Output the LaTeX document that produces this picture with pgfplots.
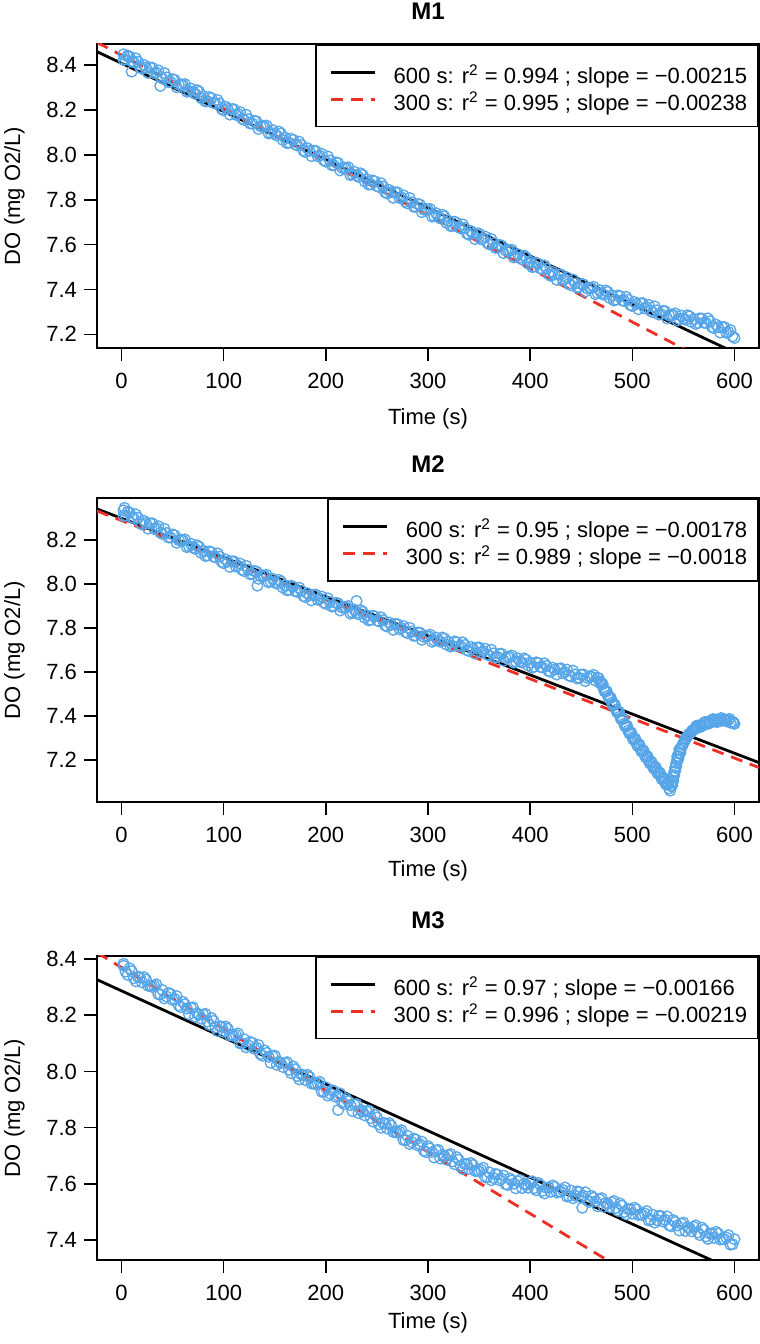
\documentclass[border=0pt]{standalone}
\usepackage{fontspec}
\setmainfont{Liberation Sans}
\usepackage{pgfplots}
\pgfplotsset{compat=1.18}
\definecolor{ptblue}{RGB}{85,165,232}
\definecolor{fitred}{RGB}{238,48,36}
\pgfplotsset{
  panel/.style={
    scale only axis, width=331pt, height=152pt, anchor=south west,
    xmin=-24, xmax=624,
    xtick={0,100,200,300,400,500,600},
    xticklabels={0,100,200,300,400,500,600},
    tick align=outside, major tick length=6.5pt,
    xtick pos=lower, ytick pos=left,
    axis line style={line width=0.8pt},
    every tick/.style={black, line width=0.8pt},
    tick label style={font=\fontsize{11}{13}\selectfont},
    xticklabel style={yshift=-2.6pt},
    label style={font=\fontsize{11}{13}\selectfont},
    title style={font=\bfseries\fontsize{12}{14}\selectfont, anchor=base, yshift=-6pt},
    xlabel={Time (s)},
    ylabel={DO (mg O2/L)},
    ylabel style={at={(axis description cs:-0.1163,0.5)}, anchor=base, rotate=0},
    legend style={at={(1,1)}, anchor=north east, draw=black, line width=0.8pt, fill=white,
      inner xsep=5.5pt, inner ysep=7pt, row sep=0.15pt,
      nodes={inner sep=0pt, text height=12.25pt, text depth=1.1pt},
      font=\fontsize{11}{13}\selectfont},
    legend cell align=left,
    legend image code/.code={\draw[##1] (0pt,0pt) -- (22pt,0pt); \path[draw=none,fill=none] (-2pt,0pt) (31.5pt,0pt);},
  },
  pts/.style={only marks, mark=o, color=ptblue, mark size=2.7pt, mark options={line width=0.65pt}, forget plot},
  fit600/.style={black, line width=1.4pt, no marks},
  fit300/.style={fitred, line width=1.4pt, dash pattern=on 6pt off 4pt, no marks},
}
\begin{document}
\begin{tikzpicture}
% ---------------- M1 ----------------
\begin{axis}[panel, at={(48.5pt,498pt)}, title={M1},
  title style={at={(axis description cs:0.5,1.0789)}},
  xlabel style={at={(axis description cs:0.5,-0.2533)}, anchor=base},
  ymin=7.139, ymax=8.495,
  ytick={7.2,7.4,7.6,7.8,8.0,8.2,8.4}, yticklabels={7.2,7.4,7.6,7.8,8.0,8.2,8.4}]
\addplot[pts] coordinates {
(2,8.449) (4,8.426) (6,8.440) (8,8.438) (10,8.372) (12,8.414) (16,8.416) (20,8.385) (24,8.390) (28,8.390) (32,8.365) (36,8.377) (38,8.308) (40,8.341) (44,8.346) (48,8.326) (52,8.335) (56,8.313) (60,8.312) (64,8.282) (68,8.296) (72,8.273) (76,8.282) (80,8.263) (84,8.240) (88,8.253) (92,8.229) (96,8.230) (100,8.199) (104,8.205) (108,8.204) (112,8.179) (116,8.191) (120,8.156) (124,8.160) (128,8.140) (132,8.150) (136,8.128) (140,8.126) (144,8.096) (148,8.111) (152,8.087) (156,8.096) (160,8.078) (164,8.055) (168,8.067) (172,8.043) (176,8.045) (180,8.013) (184,8.019) (188,8.019) (192,7.994) (196,8.005) (200,7.970) (204,7.975) (208,7.954) (212,7.964) (216,7.942) (220,7.941) (224,7.910) (228,7.925) (232,7.902) (236,7.911) (240,7.892) (244,7.869) (248,7.882) (252,7.857) (256,7.859) (260,7.828) (264,7.834) (268,7.833) (272,7.808) (276,7.820) (280,7.784) (284,7.789) (288,7.769) (292,7.779) (296,7.756) (300,7.755) (304,7.725) (308,7.740) (312,7.717) (316,7.726) (320,7.707) (324,7.684) (328,7.697) (332,7.673) (336,7.675) (340,7.644) (344,7.650) (348,7.650) (352,7.624) (356,7.636) (360,7.601) (364,7.606) (368,7.586) (372,7.596) (376,7.574) (380,7.573) (384,7.543) (388,7.557) (392,7.534) (396,7.543) (400,7.525) (404,7.502) (408,7.515) (412,7.491) (416,7.493) (420,7.461) (424,7.467) (428,7.467) (432,7.442) (436,7.454) (440,7.419) (444,7.427) (448,7.410) (452,7.423) (456,7.404) (460,7.406) (464,7.379) (468,7.397) (472,7.377) (476,7.389) (480,7.374) (484,7.354) (488,7.370) (492,7.349) (496,7.354) (500,7.326) (504,7.335) (508,7.338) (512,7.316) (516,7.331) (520,7.299) (524,7.307) (528,7.290) (532,7.303) (536,7.284) (540,7.286) (544,7.262) (548,7.283) (552,7.265) (556,7.280) (560,7.268) (564,7.251) (568,7.270) (572,7.251) (576,7.258) (580,7.227) (584,7.232) (588,7.232) (592,7.207) (596,7.219) (600,7.184)
};
\addplot[pts] coordinates {
(2,8.424) (6,8.443) (10,8.418) (14,8.431) (18,8.391) (22,8.401) (26,8.366) (30,8.389) (34,8.368) (38,8.348) (42,8.365) (46,8.325) (50,8.338) (54,8.302) (58,8.315) (62,8.316) (66,8.285) (70,8.281) (74,8.289) (78,8.253) (82,8.239) (86,8.258) (90,8.232) (94,8.245) (98,8.206) (102,8.215) (106,8.180) (110,8.204) (114,8.183) (118,8.162) (122,8.179) (126,8.140) (130,8.152) (134,8.116) (138,8.130) (142,8.131) (146,8.099) (150,8.095) (154,8.104) (158,8.067) (162,8.053) (166,8.072) (170,8.047) (174,8.059) (178,8.020) (182,8.030) (186,7.995) (190,8.018) (194,7.997) (198,7.977) (202,7.993) (206,7.954) (210,7.967) (214,7.931) (218,7.944) (222,7.945) (226,7.914) (230,7.909) (234,7.918) (238,7.882) (242,7.868) (246,7.886) (250,7.861) (254,7.874) (258,7.834) (262,7.844) (266,7.809) (270,7.833) (274,7.811) (278,7.791) (282,7.808) (286,7.769) (290,7.781) (294,7.745) (298,7.759) (302,7.759) (306,7.728) (310,7.724) (314,7.733) (318,7.697) (322,7.683) (326,7.702) (330,7.677) (334,7.690) (338,7.650) (342,7.660) (346,7.625) (350,7.649) (354,7.628) (358,7.608) (362,7.625) (366,7.586) (370,7.598) (374,7.562) (378,7.576) (382,7.577) (386,7.546) (390,7.542) (394,7.551) (398,7.515) (402,7.500) (406,7.519) (410,7.494) (414,7.507) (418,7.468) (422,7.478) (426,7.443) (430,7.467) (434,7.446) (438,7.425) (442,7.444) (446,7.408) (450,7.424) (454,7.391) (458,7.408) (462,7.412) (466,7.384) (470,7.383) (474,7.395) (478,7.362) (482,7.351) (486,7.373) (490,7.351) (494,7.367) (498,7.331) (502,7.344) (506,7.312) (510,7.339) (514,7.321) (518,7.304) (522,7.324) (526,7.288) (530,7.304) (534,7.271) (538,7.288) (542,7.293) (546,7.268) (550,7.270) (554,7.285) (558,7.255) (562,7.246) (566,7.271) (570,7.252) (574,7.271) (578,7.233) (582,7.243) (586,7.208) (590,7.232) (594,7.211) (598,7.191)
};
\addplot[fit600] coordinates {(-24,8.4606) (624,7.0674)};
\addlegendentry{600 s: r\textsuperscript{2} = 0.994 ; slope = −0.00215}
\addplot[fit300] coordinates {(-24,8.5021) (624,6.9599)};
\addlegendentry{300 s: r\textsuperscript{2} = 0.995 ; slope = −0.00238}
\end{axis}
% ---------------- M2 ----------------
\begin{axis}[panel, at={(48.5pt,270.85pt)}, title={M2},
  title style={at={(axis description cs:0.5,1.0846)}},
  xlabel style={at={(axis description cs:0.5,-0.2427)}, anchor=base},
  ymin=7.007, ymax=8.389,
  ytick={7.2,7.4,7.6,7.8,8.0,8.2}, yticklabels={7.2,7.4,7.6,7.8,8.0,8.2}]
\addplot[pts] coordinates {
(2,8.334) (3,8.345) (4,8.311) (8,8.324) (12,8.299) (16,8.301) (20,8.270) (24,8.276) (28,8.275) (32,8.250) (36,8.262) (40,8.227) (44,8.231) (48,8.211) (52,8.221) (56,8.199) (60,8.197) (64,8.167) (68,8.182) (72,8.159) (76,8.168) (80,8.151) (84,8.129) (88,8.144) (92,8.121) (96,8.124) (100,8.094) (104,8.101) (108,8.102) (112,8.079) (116,8.092) (120,8.058) (124,8.064) (128,8.045) (132,8.056) (133,7.992) (136,8.035) (140,8.036) (144,8.007) (148,8.023) (152,8.001) (156,8.011) (160,7.994) (164,7.973) (168,7.987) (172,7.964) (176,7.968) (180,7.940) (184,7.948) (188,7.950) (192,7.928) (196,7.942) (200,7.909) (204,7.917) (208,7.899) (212,7.911) (216,7.892) (220,7.893) (224,7.865) (228,7.883) (230,7.922) (232,7.862) (236,7.873) (240,7.857) (244,7.837) (248,7.852) (252,7.830) (256,7.835) (260,7.806) (264,7.814) (268,7.817) (272,7.794) (276,7.808) (280,7.776) (284,7.783) (288,7.765) (292,7.778) (296,7.759) (300,7.763) (304,7.737) (308,7.756) (312,7.737) (316,7.751) (320,7.737) (324,7.718) (328,7.735) (332,7.716) (336,7.722) (340,7.695) (344,7.705) (348,7.710) (352,7.689) (356,7.705) (360,7.674) (364,7.684) (368,7.668) (372,7.682) (376,7.664) (380,7.668) (384,7.642) (388,7.661) (392,7.642) (396,7.655) (400,7.642) (404,7.623) (408,7.640) (412,7.620) (416,7.627) (420,7.600) (424,7.610) (428,7.614) (432,7.594) (436,7.610) (440,7.579) (444,7.588) (448,7.573) (452,7.588) (456,7.573) (460,7.578) (464,7.560) (466,7.573) (468,7.556) (470,7.549) (472,7.522) (474,7.513) (476,7.491) (478,7.485) (480,7.460) (482,7.454) (484,7.428) (486,7.421) (488,7.397) (490,7.390) (492,7.364) (494,7.357) (496,7.333) (498,7.326) (500,7.302) (502,7.298) (504,7.276) (506,7.272) (508,7.248) (510,7.245) (512,7.222) (514,7.218) (516,7.196) (518,7.193) (520,7.170) (522,7.167) (524,7.146) (526,7.144) (528,7.122) (530,7.119) (532,7.098) (534,7.094) (536,7.070) (537,7.060) (538,7.080) (539,7.100) (540,7.120) (541,7.145) (542,7.165) (543,7.185) (544,7.200) (545,7.217) (546,7.232) (547,7.245) (548,7.255) (550,7.275) (552,7.293) (554,7.308) (556,7.318) (558,7.328) (560,7.337) (562,7.346) (564,7.347) (566,7.358) (568,7.355) (570,7.366) (572,7.362) (574,7.373) (576,7.370) (578,7.380) (580,7.374) (582,7.383) (584,7.376) (586,7.385) (588,7.378) (590,7.384) (592,7.376) (594,7.380) (596,7.369) (598,7.374) (600,7.364)
};
\addplot[pts] coordinates {
(2,8.309) (6,8.328) (10,8.303) (14,8.316) (18,8.276) (22,8.286) (26,8.251) (30,8.275) (34,8.254) (38,8.233) (42,8.250) (46,8.211) (50,8.224) (54,8.187) (58,8.201) (62,8.202) (66,8.171) (70,8.166) (74,8.175) (78,8.140) (82,8.127) (86,8.147) (90,8.124) (94,8.138) (98,8.100) (102,8.111) (106,8.077) (110,8.102) (114,8.083) (118,8.064) (122,8.082) (126,8.044) (130,8.058) (134,8.023) (138,8.039) (142,8.041) (146,8.011) (150,8.008) (154,8.018) (158,7.983) (162,7.971) (166,7.991) (170,7.967) (174,7.982) (178,7.945) (182,7.957) (186,7.925) (190,7.951) (194,7.932) (198,7.915) (202,7.934) (206,7.897) (210,7.913) (214,7.879) (218,7.895) (222,7.899) (226,7.870) (230,7.868) (234,7.880) (238,7.846) (242,7.834) (246,7.855) (250,7.833) (254,7.848) (258,7.811) (262,7.824) (266,7.791) (270,7.817) (274,7.799) (278,7.781) (282,7.800) (286,7.764) (290,7.779) (294,7.746) (298,7.764) (302,7.769) (306,7.743) (310,7.743) (314,7.756) (318,7.724) (322,7.715) (326,7.738) (330,7.717) (334,7.734) (338,7.699) (342,7.714) (346,7.683) (350,7.711) (354,7.694) (358,7.679) (362,7.700) (366,7.665) (370,7.682) (374,7.651) (378,7.669) (382,7.674) (386,7.647) (390,7.648) (394,7.661) (398,7.629) (402,7.619) (406,7.643) (410,7.622) (414,7.639) (418,7.604) (422,7.619) (426,7.588) (430,7.616) (434,7.599) (438,7.583) (442,7.605) (446,7.570) (450,7.587) (454,7.558) (458,7.579) (462,7.586) (467,7.571) (469,7.546) (471,7.544) (473,7.511) (475,7.512) (477,7.481) (479,7.481) (481,7.449) (483,7.450) (485,7.417) (487,7.418) (489,7.385) (491,7.385) (493,7.352) (495,7.353) (497,7.321) (499,7.323) (501,7.292) (503,7.295) (505,7.264) (507,7.268) (509,7.238) (511,7.242) (513,7.212) (515,7.215) (517,7.185) (519,7.189) (521,7.161) (523,7.166) (525,7.137) (527,7.141) (529,7.112) (531,7.117) (533,7.088) (535,7.089) (538,7.095) (539,7.085) (540,7.105) (541,7.130) (542,7.150) (543,7.170) (544,7.215) (545,7.203) (546,7.246) (547,7.232) (549,7.268) (551,7.285) (553,7.300) (555,7.314) (557,7.322) (559,7.334) (561,7.340) (563,7.355) (567,7.350) (571,7.372) (575,7.365) (579,7.385) (583,7.372) (587,7.390) (591,7.380) (595,7.386) (599,7.368)
};
\addplot[fit600] coordinates {(-24,8.3407) (624,7.1873)};
\addlegendentry{600 s: r\textsuperscript{2} = 0.95 ; slope = −0.00178}
\addplot[fit300] coordinates {(-24,8.3312) (624,7.1648)};
\addlegendentry{300 s: r\textsuperscript{2} = 0.989 ; slope = −0.0018}
\end{axis}
% ---------------- M3 ----------------
\begin{axis}[panel, at={(48.5pt,42pt)}, title={M3},
  title style={at={(axis description cs:0.5,1.0914)}},
  xlabel style={at={(axis description cs:0.5,-0.2244)}, anchor=base},
  ymin=7.329, ymax=8.411,
  ytick={7.4,7.6,7.8,8.0,8.2,8.4}, yticklabels={7.4,7.6,7.8,8.0,8.2,8.4}]
\addplot[pts] coordinates {
(2,8.376) (4,8.355) (8,8.367) (12,8.332) (16,8.337) (20,8.317) (24,8.327) (28,8.306) (32,8.305) (36,8.275) (40,8.290) (44,8.267) (48,8.276) (52,8.258) (56,8.235) (60,8.248) (64,8.224) (68,8.226) (72,8.195) (76,8.202) (80,8.202) (84,8.178) (88,8.190) (92,8.156) (96,8.161) (100,8.141) (104,8.152) (108,8.130) (112,8.130) (116,8.100) (120,8.115) (124,8.093) (128,8.102) (132,8.085) (136,8.062) (140,8.075) (144,8.052) (148,8.054) (152,8.024) (156,8.030) (160,8.030) (164,8.006) (168,8.018) (172,7.984) (176,7.989) (180,7.969) (184,7.980) (188,7.958) (192,7.958) (196,7.928) (200,7.943) (204,7.921) (208,7.930) (212,7.913) (212,7.863) (216,7.890) (220,7.903) (224,7.880) (228,7.882) (232,7.852) (236,7.858) (240,7.858) (244,7.834) (248,7.846) (252,7.812) (256,7.817) (260,7.797) (264,7.808) (268,7.786) (272,7.786) (276,7.756) (280,7.771) (284,7.749) (288,7.758) (292,7.741) (296,7.718) (300,7.734) (304,7.713) (308,7.718) (312,7.690) (316,7.699) (320,7.702) (324,7.680) (328,7.695) (332,7.663) (336,7.671) (340,7.654) (344,7.667) (348,7.648) (352,7.650) (356,7.623) (360,7.641) (364,7.621) (368,7.633) (372,7.618) (376,7.599) (380,7.619) (384,7.601) (388,7.609) (392,7.585) (396,7.597) (400,7.604) (404,7.585) (408,7.603) (412,7.575) (416,7.586) (420,7.572) (424,7.589) (428,7.573) (432,7.578) (436,7.555) (440,7.576) (444,7.558) (448,7.571) (451,7.515) (452,7.558) (456,7.540) (460,7.557) (464,7.538) (468,7.545) (472,7.518) (476,7.529) (480,7.534) (484,7.514) (488,7.530) (492,7.500) (496,7.510) (500,7.494) (504,7.509) (508,7.492) (512,7.495) (516,7.470) (520,7.490) (524,7.471) (528,7.485) (532,7.472) (536,7.453) (540,7.471) (544,7.452) (548,7.458) (552,7.432) (556,7.443) (560,7.447) (564,7.427) (568,7.444) (572,7.413) (576,7.423) (580,7.408) (584,7.423) (588,7.405) (592,7.409) (596,7.384) (600,7.403)
};
\addplot[pts] coordinates {
(2,8.383) (6,8.344) (10,8.357) (14,8.321) (18,8.335) (22,8.336) (26,8.305) (30,8.301) (34,8.310) (38,8.274) (42,8.260) (46,8.279) (50,8.255) (54,8.268) (58,8.229) (62,8.239) (66,8.204) (70,8.228) (74,8.207) (78,8.188) (82,8.205) (86,8.166) (90,8.180) (94,8.144) (98,8.159) (102,8.160) (106,8.129) (110,8.126) (114,8.135) (118,8.100) (122,8.086) (126,8.105) (130,8.081) (134,8.094) (138,8.056) (142,8.066) (146,8.031) (150,8.056) (154,8.035) (158,8.016) (162,8.033) (166,7.994) (170,8.008) (174,7.972) (178,7.987) (182,7.988) (186,7.957) (190,7.954) (194,7.963) (198,7.928) (202,7.914) (206,7.933) (210,7.909) (214,7.922) (218,7.884) (222,7.894) (226,7.859) (230,7.884) (234,7.863) (238,7.844) (242,7.861) (246,7.822) (250,7.836) (254,7.800) (258,7.815) (262,7.816) (266,7.785) (270,7.782) (274,7.791) (278,7.756) (282,7.742) (286,7.761) (290,7.737) (294,7.750) (298,7.713) (302,7.726) (306,7.694) (310,7.721) (314,7.703) (318,7.686) (322,7.706) (326,7.670) (330,7.686) (334,7.653) (338,7.670) (342,7.674) (346,7.646) (350,7.645) (354,7.657) (358,7.624) (362,7.613) (366,7.635) (370,7.613) (374,7.629) (378,7.596) (382,7.612) (386,7.584) (390,7.614) (394,7.600) (398,7.586) (402,7.609) (406,7.577) (410,7.596) (414,7.566) (418,7.587) (422,7.594) (426,7.569) (430,7.572) (434,7.587) (438,7.557) (442,7.549) (446,7.573) (450,7.552) (454,7.570) (458,7.536) (462,7.550) (466,7.520) (470,7.549) (474,7.532) (478,7.517) (482,7.539) (486,7.504) (490,7.522) (494,7.491) (498,7.509) (502,7.515) (506,7.489) (510,7.489) (514,7.503) (518,7.472) (522,7.462) (526,7.486) (530,7.466) (534,7.484) (538,7.449) (542,7.464) (546,7.434) (550,7.462) (554,7.446) (558,7.431) (562,7.452) (566,7.418) (570,7.436) (574,7.404) (578,7.423) (582,7.429) (586,7.402) (590,7.403) (594,7.417) (598,7.385)
};
\addplot[fit600] coordinates {(-24,8.3268) (624,7.2512)};
\addlegendentry{600 s: r\textsuperscript{2} = 0.97 ; slope = −0.00166}
\addplot[fit300] coordinates {(-24,8.4226) (624,7.0034)};
\addlegendentry{300 s: r\textsuperscript{2} = 0.996 ; slope = −0.00219}
\end{axis}
\pgfresetboundingbox
\path[use as bounding box] (0pt,0pt) rectangle (380pt,672pt);
\end{tikzpicture}
\end{document}
